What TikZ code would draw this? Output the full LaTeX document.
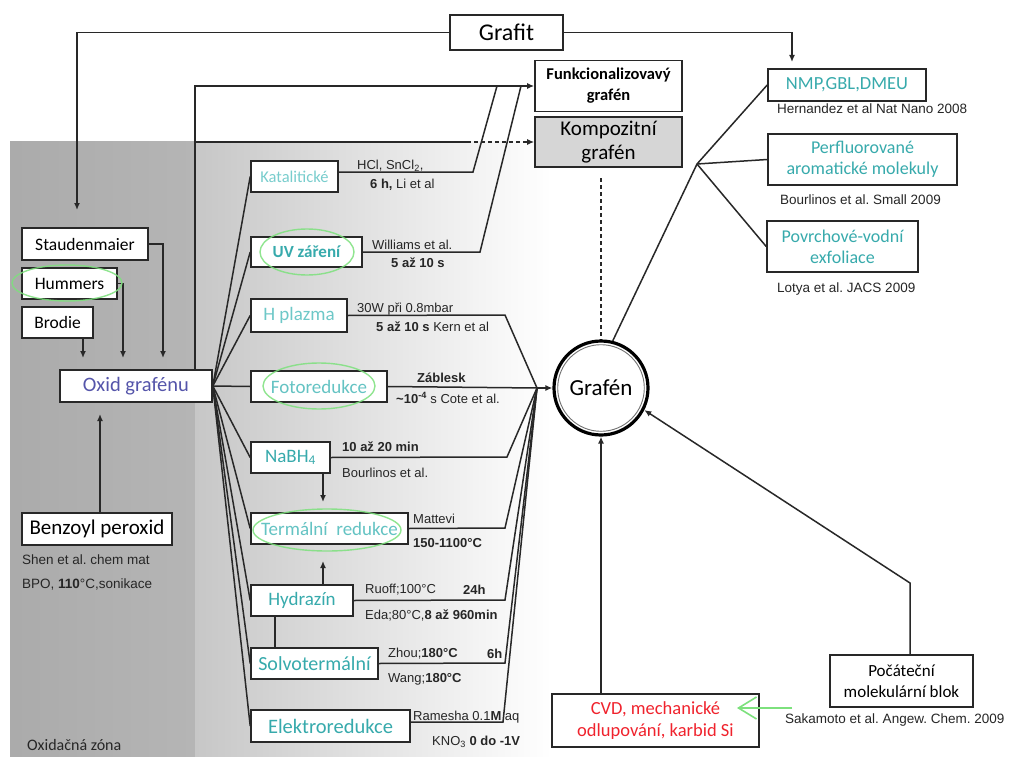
\documentclass[tikz,border=0pt]{standalone}
\usepackage{fontspec}
\setmainfont{Carlito}
\newfontfamily\arial{Liberation Sans}
\usetikzlibrary{arrows.meta,shapes.geometric}
\newcommand\fsz[2]{\fontsize{#1}{#2}\selectfont}
\definecolor{tealtx}{RGB}{55,170,172}
\definecolor{tealpale}{RGB}{120,205,205}
\definecolor{oxidtx}{RGB}{85,85,170}
\definecolor{redtx}{RGB}{240,35,45}
\definecolor{ellgreen}{RGB}{125,225,125}
\definecolor{lncol}{RGB}{40,40,40}
\pgfdeclarelayer{backg}
\pgfdeclarelayer{lines}
\pgfsetlayers{backg,lines,main}
\frenchspacing
\begin{document}
\begin{tikzpicture}[x=1pt,y=-1pt,
  box/.style={draw=lncol, line width=1.6pt, fill=white, inner sep=0pt, align=center, font=\fsz{17.5}{20}},
  mbox/.style={box, text=tealtx, font=\fsz{19}{22}},
  ln/.style={draw=lncol, line width=1.5pt},
  arr/.style={ln, -{Latex[length=7pt,width=6pt]}},
  note/.style={font=\arial\fsz{13}{15}, text=black!85, inner sep=0pt, anchor=west},
  ref/.style={font=\arial\fsz{13.5}{15}, text=black!85, inner sep=0pt, anchor=west},
  ell/.style={draw=ellgreen, line width=1.4pt, opacity=0.85}]
\useasboundingbox (0,0) rectangle (1012,757);
\begin{pgfonlayer}{backg}
\fill[white] (0,0) rectangle (1012,757);
\shade[left color=gray!66, right color=gray!58] (10,142) rectangle (195,757);
\shade[left color=gray!44, right color=white] (195,142) rectangle (552,757);
\end{pgfonlayer}

% coordinates
\coordinate (st1) at (77,210);
\coordinate (nm1) at (792,62);
\coordinate (fx) at (195,142);
\coordinate (kd) at (467,142);
\coordinate (sa) at (163,358);
\coordinate (ha) at (123,358);
\coordinate (ba) at (83,358);
\coordinate (bt) at (100,414);
\coordinate (kc) at (473,172);
\coordinate (kf) at (497,86);
\coordinate (uc) at (480,252);
\coordinate (uf) at (521,86);
\coordinate (hc) at (505,315);
\coordinate (J) at (537,388);
\coordinate (nc) at (507,457);
\coordinate (tc) at (505,528);
\coordinate (yc) at (505,600);
\coordinate (sc) at (505,663);
\coordinate (ec) at (503,722);
\coordinate (nt) at (323,502);
\coordinate (ht) at (323,561);
\coordinate (hs) at (275,0);
\coordinate (B) at (697,164);
\coordinate (pk) at (910,583);
\coordinate (dk1) at (601,178);
\coordinate (sakg) at (792,708);
\coordinate (cvdg) at (737,708);

% nodes
\node[box, minimum width=113, minimum height=35, font=\fsz{24}{26}] (grafit) at (506.5,32.5) {Grafit};
\node[box, minimum width=147, minimum height=51, font=\bfseries\fsz{16.5}{21}] (funk) at (608.5,86) {Funkcionalizovavý\\grafén};
\node[box, fill=gray!32, minimum width=147, minimum height=50, font=\fsz{21}{24}] (komp) at (608.5,142) {Kompozitní\\grafén};
\node[box, text=tealtx, minimum width=158, minimum height=32, font=\fsz{18.5}{22}] (nmp) at (847,85) {NMP,GBL,DMEU};
\node[box, text=tealtx, minimum width=189, minimum height=51, font=\fsz{18}{21}] (perf) at (862.5,159.5) {Perfluorované\\aromatické molekuly};
\node[box, text=tealtx, minimum width=151, minimum height=51, font=\fsz{18}{21}] (povr) at (842.5,246.5) {Povrchové-vodní\\exfoliace};
\node[box, text=redtx, minimum width=207, minimum height=53, font=\fsz{18.5}{22}] (cvd) at (655.5,720.5) {CVD, mechanické\\odlupování, karbid Si};
\node[box, minimum width=143, minimum height=52, font=\fsz{17}{21}] (poc) at (901.5,681) {Počáteční\\molekulární blok};

\node[box, minimum width=126, minimum height=32] (staud) at (85,244) {Staudenmaier};
\node[box, minimum width=95, minimum height=31] (humm) at (69.5,283.5) {Hummers};
\node[box, minimum width=71, minimum height=31] (brod) at (57.5,322.5) {Brodie};
\node[box, text=oxidtx, minimum width=152, minimum height=32, font=\fsz{20.5}{24}] (oxid) at (136,386) {Oxid grafénu};
\node[box, minimum width=150, minimum height=32, font=\fsz{21}{24}] (benz) at (97,529) {Benzoyl peroxid};

\node[mbox, text=tealpale, minimum width=87, minimum height=31, font=\fsz{16.5}{20}] (kat) at (294.5,176.5) {Katalitické};
\node[mbox, minimum width=111, minimum height=30, font=\bfseries\fsz{17}{20}] (uv) at (306.5,252) {UV záření};
\node[mbox, text=tealpale!85!tealtx, minimum width=96, minimum height=33] (hpl) at (299,315.5) {H plazma};
\node[mbox, text=tealpale!70!tealtx, minimum width=136, minimum height=31] (foto) at (319,386.5) {Fotoredukce};
\node[mbox, minimum width=79, minimum height=31] (nab) at (290.5,457.5) {NaBH\textsubscript{4}};
\node[mbox, text=tealpale!70!tealtx, minimum width=157, minimum height=31] (term) at (329.5,528.5) {Termální\ \ redukce};
\node[mbox, minimum width=102, minimum height=31] (hydr) at (302,600.5) {Hydrazín};
\node[mbox, minimum width=127, minimum height=31, font=\fsz{20}{22}] (solv) at (314.5,663.5) {Solvotermální};
\node[mbox, minimum width=159, minimum height=32, font=\fsz{20.5}{22}] (elek) at (330.5,726) {Elektroredukce};

\node[circle, draw=black, line width=3.2pt, fill=white, minimum size=94, inner sep=0pt, font=\fsz{23}{26}] (graf) at (601,388) {Grafén};
\draw[black!55, line width=0.9pt] (graf.center) circle[radius=43.3];

% connectors
\begin{pgfonlayer}{lines}
\draw[arr] (grafit.west) -| (st1);
\draw[arr] (grafit.east) -| (nm1);
\draw[arr] (oxid.north -| fx) -- (fx) -- (fx |- funk.west) -- (funk.west);
\draw[ln] (fx) -- (kd);
\draw[arr, dash pattern=on 4pt off 3pt] (kd) -- (komp.west);
\draw[ln, dash pattern=on 4pt off 3pt, line width=1.3pt] (dk1) -- (graf.north);
\draw[arr] (staud.east) -| (sa);
\draw[arr] (humm.east) -| (ha);
\draw[arr] (brod.south -| ba) -- (ba);
\draw[arr] (bt |- benz.north) -- (bt);
\foreach \m in {kat,uv,hpl,foto,nab,term,hydr,solv,elek}{
  \draw[ln] (oxid.east) -- (\m.west);
}
\draw[ln] (kat.east |- kc) -- (kc) -- (kf);
\draw[ln] (uv.east) -- (uc) -- (uf);
\draw[ln] (hpl.east) -- (hc) -- (J);
\draw[ln] (foto.east) -- (J);
\draw[ln] (nab.east) -- (nc) -- (J);
\draw[ln] (term.east) -- (tc) -- (J);
\draw[ln] (hydr.east) -- (yc) -- (J);
\draw[ln] (solv.east) -- (sc) -- (J);
\draw[ln] (elek.east |- ec) -- (ec) -- (J);
\draw[arr] (J) -- (graf.west);
\draw[arr] (nab.south -| nt) -- (nt);
\draw[arr] (hydr.north -| ht) -- (ht);
\draw[ln] (hydr.south -| hs) -- (solv.north -| hs);
\draw[ln] (graf.76) -- (B);
\draw[ln] (B) -- (nmp.west);
\draw[ln] (B) -- (perf.west);
\draw[ln] (B) -- (povr.west);
\draw[arr] (cvd.north -| graf.south) -- (graf.south);
\draw[arr] (poc.north -| pk) -- (pk) -- (graf.-27);
\end{pgfonlayer}
\draw[draw=ellgreen, line width=1.6pt, -{Straight Barb[length=18pt,width=22pt]}] (sakg) -- (cvdg);

% green ellipses
\draw[ell] (67,283) ellipse [x radius=55, y radius=18];
\draw[ell] (307,252) ellipse [x radius=47, y radius=23];
\draw[ell] (319,386) ellipse [x radius=56, y radius=23];
\draw[ell] (327,530) ellipse [x radius=74, y radius=21];

% notes
\node[note] (n1) at (357,166) {HCl, SnCl\textsubscript{2},};
\node[note] (n2) at (370,185) {\textbf{6 h,} Li et al};
\node[note] (n3) at (372,245) {Williams et al.};
\node[note] (n4) at (391,263) {\textbf{5 až 10 s}};
\node[note] (n5) at (357,309) {30W při 0.8mbar};
\node[note] (n6) at (376,327) {\textbf{5 až 10 s} Kern et al};
\node[note] (n7) at (417,378) {\textbf{Záblesk}};
\node[note] (n8) at (396,398) {\textbf{\textasciitilde10\textsuperscript{-4}} s Cote et al.};
\node[note] (n9) at (342,447) {\textbf{10 až 20 min}};
\node[note] (n10) at (342,473) {Bourlinos et al.};
\node[note] (n11) at (413,519) {Mattevi};
\node[note] (n12) at (413,543) {\textbf{150-1100°C}};
\node[note] (n13) at (365,590) {Ruoff;100°C};
\node[note] (n14) at (463,590) {\textbf{24h}};
\node[note] (n15) at (365,615) {Eda;80°C,\textbf{8 až 960min}};
\node[note] (n16) at (388,654) {Zhou;\textbf{180°C}};
\node[note] (n17) at (487,654) {\textbf{6h}};
\node[note] (n18) at (388,679) {Wang;\textbf{180°C}};
\node[note] (n19) at (413,717) {Ramesha 0.1\textbf{M} aq};
\node[note] (n20) at (432,742) {KNO\textsubscript{3} \textbf{0 do -1V}};
\node[ref] (r1) at (22,560) {Shen et al. chem mat};
\node[ref] (r2) at (22,584) {BPO, \textbf{110}°C,sonikace};
\node[ref] (r3) at (777,109) {Hernandez et al Nat Nano 2008};
\node[ref] (r4) at (780,200) {Bourlinos et al. Small 2009};
\node[ref] (r5) at (777,289) {Lotya et al. JACS 2009};
\node[ref] (r6) at (785,720) {Sakamoto et al. Angew. Chem. 2009};
\node[anchor=west, inner sep=0pt, font=\fsz{16}{18}, text=black!85] (oz) at (27,745) {Oxidačná zóna};
\end{tikzpicture}
\end{document}
